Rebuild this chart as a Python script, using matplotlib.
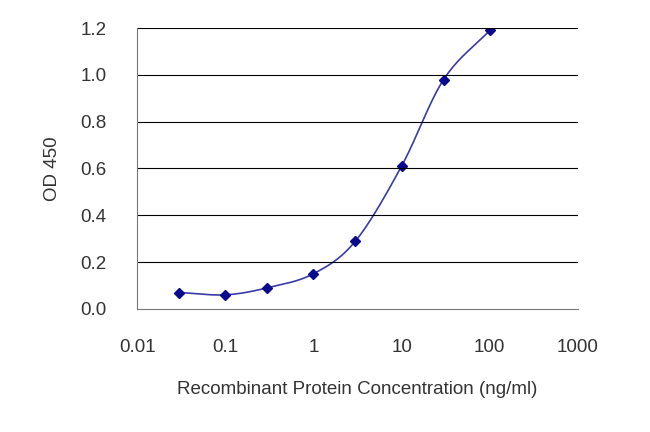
import numpy as np
import matplotlib
matplotlib.use("Agg")
import matplotlib.pyplot as plt
plt.rcParams['font.family'] = ['Liberation Sans', 'DejaVu Sans']

conc = [0.03, 0.1, 0.3, 1, 3, 10, 30, 100]
od = [0.07, 0.06, 0.09, 0.15, 0.29, 0.61, 0.98, 1.19]
xticks = [0.01, 0.1, 1, 10, 100, 1000]
xticklabels = ["0.01", "0.1", "1", "10", "100", "1000"]
yticks = [0.0, 0.2, 0.4, 0.6, 0.8, 1.0, 1.2]

fig = plt.figure(figsize=(6.5, 4.32), dpi=100)
ax = fig.add_axes([0.211, 0.285, 0.678, 0.65])

lx = np.log10(conc); y = np.array(od)
P = np.column_stack([lx, y])
P = np.vstack([2*P[0]-P[1], P, 2*P[-1]-P[-2]])
cx, cy = [], []
for i in range(1, len(P)-2):
    p0, p1, p2, p3 = P[i-1], P[i], P[i+1], P[i+2]
    for t in np.linspace(0, 1, 20):
        pt = 0.5*((2*p1) + (-p0+p2)*t + (2*p0-5*p1+4*p2-p3)*t**2 + (-p0+3*p1-3*p2+p3)*t**3)
        cx.append(pt[0]); cy.append(pt[1])
ax.plot(10**np.array(cx), cy, color="#3a3aa8", lw=1.2)
ax.plot(conc, od, "D", color="#0a0a8c", ms=5)

ax.set_xscale("log")
ax.set_xlim(0.01, 1000)
ax.set_ylim(0, 1.2)
ax.set_xticks(xticks)
ax.set_xticklabels(xticklabels)
ax.minorticks_off()
ax.set_yticks(yticks)
ax.set_yticklabels([f"{v:.1f}" for v in yticks])
for v in yticks[1:]:
    ax.axhline(v, color="black", lw=0.8)
for s in ["top", "right"]:
    ax.spines[s].set_visible(False)
ax.spines["left"].set_color("#777777")
ax.spines["bottom"].set_color("#777777")
ax.tick_params(labelsize=13.5, colors="#333333", length=0)
ax.tick_params(axis="x", pad=22)
ax.tick_params(axis="y", pad=22)
ax.set_ylabel("OD 450", fontsize=13.5, color="#333333", labelpad=14)
ax.set_xlabel("Recombinant Protein Concentration (ng/ml)", fontsize=13.5, color="#333333", labelpad=18)
fig.savefig("out.png", dpi=100)
